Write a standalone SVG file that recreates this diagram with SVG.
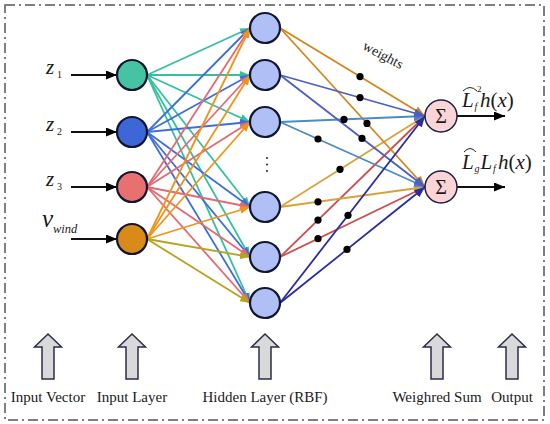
<svg xmlns="http://www.w3.org/2000/svg" width="550" height="424" viewBox="0 0 550 424">
<style>
text{font-family:"Liberation Serif","Times New Roman",serif;fill:#1a1a1a}
.it{font-style:italic}
.node{stroke:#111633;stroke-width:2.2}
.in{fill:none;stroke-width:1.8}
.wt{fill:none;stroke-width:1.8}
.dot{fill:#000}
.blk{fill:#d9d9d9;stroke:#2b2d4a;stroke-width:1.5}
.lbl{font-size:15px;text-anchor:middle}
</style>
<defs>
<marker id="mTeal" markerUnits="userSpaceOnUse" markerWidth="10" markerHeight="8" refX="10" refY="4" orient="auto"><path d="M0,0 L10,4 L0,8 Z" fill="#35bfa0"/></marker>
<marker id="mBlue" markerUnits="userSpaceOnUse" markerWidth="10" markerHeight="8" refX="10" refY="4" orient="auto"><path d="M0,0 L10,4 L0,8 Z" fill="#3d6fd9"/></marker>
<marker id="mRed" markerUnits="userSpaceOnUse" markerWidth="10" markerHeight="8" refX="10" refY="4" orient="auto"><path d="M0,0 L10,4 L0,8 Z" fill="#e46a72"/></marker>
<marker id="mOrange" markerUnits="userSpaceOnUse" markerWidth="10" markerHeight="8" refX="10" refY="4" orient="auto"><path d="M0,0 L10,4 L0,8 Z" fill="#f0931e"/></marker>
<marker id="mOlive" markerUnits="userSpaceOnUse" markerWidth="10" markerHeight="8" refX="10" refY="4" orient="auto"><path d="M0,0 L10,4 L0,8 Z" fill="#b8a21e"/></marker>
<marker id="mH1" markerUnits="userSpaceOnUse" markerWidth="11" markerHeight="9" refX="11" refY="4.5" orient="auto"><path d="M0,0 L11,4.5 L0,9 Z" fill="#d4861e"/></marker>
<marker id="mH2" markerUnits="userSpaceOnUse" markerWidth="11" markerHeight="9" refX="11" refY="4.5" orient="auto"><path d="M0,0 L11,4.5 L0,9 Z" fill="#4b5ec2"/></marker>
<marker id="mH3" markerUnits="userSpaceOnUse" markerWidth="11" markerHeight="9" refX="11" refY="4.5" orient="auto"><path d="M0,0 L11,4.5 L0,9 Z" fill="#4a7fcc"/></marker>
<marker id="mH4" markerUnits="userSpaceOnUse" markerWidth="11" markerHeight="9" refX="11" refY="4.5" orient="auto"><path d="M0,0 L11,4.5 L0,9 Z" fill="#d9a23a"/></marker>
<marker id="mH5" markerUnits="userSpaceOnUse" markerWidth="11" markerHeight="9" refX="11" refY="4.5" orient="auto"><path d="M0,0 L11,4.5 L0,9 Z" fill="#c9504e"/></marker>
<marker id="mH6" markerUnits="userSpaceOnUse" markerWidth="11" markerHeight="9" refX="11" refY="4.5" orient="auto"><path d="M0,0 L11,4.5 L0,9 Z" fill="#2a2e9c"/></marker>
<marker id="mBlack" markerUnits="userSpaceOnUse" markerWidth="11" markerHeight="9" refX="11" refY="4.5" orient="auto"><path d="M0,0 L11,4.5 L0,9 Z" fill="#000"/></marker>
</defs>

<rect x="5" y="5" width="539" height="415" fill="none" stroke="#555" stroke-width="1.5" stroke-dasharray="10,4,2,4"/>

<g id="connectors">
  <g class="in" stroke="#35bfa0" marker-end="url(#mTeal)">
    <line x1="147" y1="75" x2="250" y2="28"/>
    <line x1="147" y1="75" x2="250" y2="75"/>
    <line x1="147" y1="75" x2="250" y2="122"/>
    <line x1="147" y1="75" x2="250" y2="207"/>
    <line x1="147" y1="75" x2="250" y2="257"/>
    <line x1="147" y1="75" x2="250" y2="303"/>
  </g>
  <g class="in" stroke="#3d6fd9" marker-end="url(#mBlue)">
    <line x1="147" y1="132" x2="250" y2="28"/>
    <line x1="147" y1="132" x2="250" y2="75"/>
    <line x1="147" y1="132" x2="250" y2="122"/>
    <line x1="147" y1="132" x2="250" y2="207"/>
    <line x1="147" y1="132" x2="250" y2="257"/>
    <line x1="147" y1="132" x2="250" y2="303"/>
  </g>
  <g class="in" stroke="#e46a72" marker-end="url(#mRed)">
    <line x1="147" y1="187" x2="250" y2="28"/>
    <line x1="147" y1="187" x2="250" y2="75"/>
    <line x1="147" y1="187" x2="250" y2="122"/>
    <line x1="147" y1="187" x2="250" y2="207"/>
    <line x1="147" y1="187" x2="250" y2="257"/>
    <line x1="147" y1="187" x2="250" y2="303"/>
  </g>
  <g class="in" stroke="#f0931e" marker-end="url(#mOrange)">
    <line x1="147" y1="239" x2="250" y2="28"/>
    <line x1="147" y1="239" x2="250" y2="75"/>
    <line x1="147" y1="239" x2="250" y2="122"/>
    <line x1="147" y1="239" x2="250" y2="207"/>
  </g>
  <g class="in" stroke="#b8a21e" marker-end="url(#mOlive)">
    <line x1="147" y1="239" x2="250" y2="257"/>
    <line x1="147" y1="239" x2="250" y2="303"/>
  </g>

  <g class="wt">
    <line x1="280" y1="257" x2="425" y2="116" stroke="#c9504e" marker-end="url(#mH5)"/>
    <line x1="280" y1="257" x2="425" y2="187" stroke="#c9504e" marker-end="url(#mH5)"/>
    <line x1="280" y1="207" x2="425" y2="116" stroke="#d9a23a" marker-end="url(#mH4)"/>
    <line x1="280" y1="207" x2="425" y2="187" stroke="#d9a23a" marker-end="url(#mH4)"/>
    <line x1="280" y1="28" x2="425" y2="116" stroke="#d4861e" marker-end="url(#mH1)"/>
    <line x1="280" y1="28" x2="425" y2="187" stroke="#d4861e" marker-end="url(#mH1)"/>
    <line x1="280" y1="122" x2="425" y2="116" stroke="#4a8cc2" marker-end="url(#mH3)"/>
    <line x1="280" y1="122" x2="425" y2="187" stroke="#4a8cc2" marker-end="url(#mH3)"/>
    <line x1="280" y1="75" x2="425" y2="116" stroke="#4b5ec2" marker-end="url(#mH2)"/>
    <line x1="280" y1="75" x2="425" y2="187" stroke="#4b5ec2" marker-end="url(#mH2)"/>
    <line x1="280" y1="303" x2="425" y2="116" stroke="#2a2e9c" marker-end="url(#mH6)"/>
    <line x1="280" y1="303" x2="425" y2="187" stroke="#2a2e9c" marker-end="url(#mH6)"/>
  </g>
  <g class="dot">
    <circle cx="360" cy="76.6" r="3.6"/>
    <circle cx="367" cy="123.4" r="3.6"/>
    <circle cx="360" cy="97.6" r="3.6"/>
    <circle cx="362" cy="138.4" r="3.6"/>
    <circle cx="344" cy="119.4" r="3.6"/>
    <circle cx="318" cy="139" r="3.6"/>
    <circle cx="340" cy="169.3" r="3.6"/>
    <circle cx="318" cy="201.8" r="3.6"/>
    <circle cx="318" cy="220.1" r="3.6"/>
    <circle cx="318" cy="238.7" r="3.6"/>
    <circle cx="348" cy="215.3" r="3.6"/>
    <circle cx="347" cy="249.4" r="3.6"/>
  </g>

  <g stroke="#111" stroke-width="2" marker-end="url(#mBlack)">
    <line x1="71" y1="75" x2="117" y2="75"/>
    <line x1="71" y1="132" x2="117" y2="132"/>
    <line x1="71" y1="187" x2="117" y2="187"/>
    <line x1="71" y1="239" x2="117" y2="239"/>
  </g>
  <g stroke="#111" stroke-width="2" marker-end="url(#mBlack)">
    <line x1="457" y1="116" x2="505" y2="116"/>
    <line x1="457" y1="187" x2="505" y2="187"/>
  </g>
</g>

<text transform="translate(381,59) rotate(28)" font-size="14" text-anchor="middle">weights</text>

<g id="label-z1"><text x="46" y="74" font-size="21" class="it">z</text><text x="57" y="78" font-size="10">1</text></g>
<g id="label-z2"><text x="46" y="131" font-size="21" class="it">z</text><text x="57" y="135" font-size="10">2</text></g>
<g id="label-z3"><text x="46" y="186" font-size="21" class="it">z</text><text x="57" y="190" font-size="10">3</text></g>
<g id="label-vwind"><text x="42" y="227" font-size="25" class="it">v</text><text x="53" y="233" font-size="12.5" class="it">wind</text></g>

<g id="in-z1"><circle class="node" cx="132" cy="75" r="15" fill="#45c3a2"/></g>
<g id="in-z2"><circle class="node" cx="132" cy="132" r="15" fill="#3d67d6"/></g>
<g id="in-z3"><circle class="node" cx="132" cy="187" r="15" fill="#e87070"/></g>
<g id="in-vwind"><circle class="node" cx="132" cy="239" r="15" fill="#d98a18"/></g>

<g id="h1"><circle class="node" cx="265" cy="28" r="15" fill="#b0c0f6"/></g>
<g id="h2"><circle class="node" cx="265" cy="75" r="15" fill="#b0c0f6"/></g>
<g id="h3"><circle class="node" cx="265" cy="122" r="15" fill="#b0c0f6"/></g>
<g id="h-dots" fill="#222"><circle cx="267" cy="158" r="1"/><circle cx="267" cy="164.5" r="1"/><circle cx="267" cy="171" r="1"/></g>
<g id="h4"><circle class="node" cx="265" cy="207" r="15" fill="#b0c0f6"/></g>
<g id="h5"><circle class="node" cx="265" cy="257" r="15" fill="#b0c0f6"/></g>
<g id="h6"><circle class="node" cx="265" cy="303" r="15" fill="#b0c0f6"/></g>

<g id="sum1"><circle cx="441" cy="116" r="16" fill="#fad4d6" stroke="#1c2040" stroke-width="1.5"/><text x="441" y="123" font-size="20" text-anchor="middle">Σ</text></g>
<g id="sum2"><circle cx="441" cy="187" r="16" fill="#fad4d6" stroke="#1c2040" stroke-width="1.5"/><text x="441" y="194" font-size="20" text-anchor="middle">Σ</text></g>

<g id="out-label-1">
  <text x="462" y="107" font-size="21" class="it">L</text>
  <path d="M463,91 Q470,84 477,91" fill="none" stroke="#222" stroke-width="1"/>
  <text x="477" y="92" font-size="9">2</text>
  <text x="474.5" y="110" font-size="10" class="it">f</text>
  <text x="480" y="107" font-size="21"><tspan class="it">h</tspan>(<tspan class="it">x</tspan>)</text>
</g>
<g id="out-label-2">
  <text x="462" y="169" font-size="21" class="it">L</text>
  <path d="M464,152 Q470,145 476,152" fill="none" stroke="#222" stroke-width="1"/>
  <text x="474.5" y="172" font-size="10" class="it">g</text>
  <text x="480.5" y="169" font-size="21" class="it">L</text>
  <text x="493" y="172" font-size="10" class="it">f</text>
  <text x="498" y="169" font-size="21"><tspan class="it">h</tspan>(<tspan class="it">x</tspan>)</text>
</g>

<g id="arrow-input-vector"><path class="blk" d="M48,334 L61.5,347 L54,347 L54,379 L42,379 L42,347 L34.5,347 Z"/><text class="lbl" x="48" y="402">Input Vector</text></g>
<g id="arrow-input-layer"><path class="blk" d="M132,334 L145.5,347 L138,347 L138,379 L126,379 L126,347 L118.5,347 Z"/><text class="lbl" x="132" y="402">Input Layer</text></g>
<g id="arrow-hidden-layer"><path class="blk" d="M265,334 L278.5,347 L271,347 L271,379 L259,379 L259,347 L251.5,347 Z"/><text class="lbl" x="265" y="402">Hidden Layer (RBF)</text></g>
<g id="arrow-weighted-sum"><path class="blk" d="M437,334 L450.5,347 L443,347 L443,379 L431,379 L431,347 L423.5,347 Z"/><text class="lbl" x="437" y="402">Weighred Sum</text></g>
<g id="arrow-output"><path class="blk" d="M512,334 L525.5,347 L518,347 L518,379 L506,379 L506,347 L498.5,347 Z"/><text class="lbl" x="512" y="402">Output</text></g>
</svg>
